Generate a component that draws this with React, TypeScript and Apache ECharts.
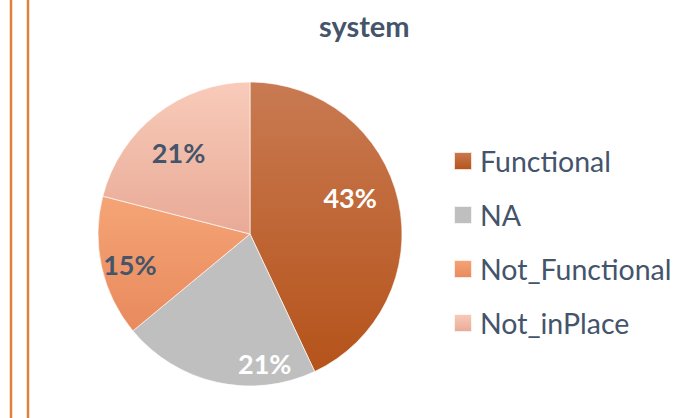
import React, { useEffect, useRef } from "react";
import * as echarts from "echarts";

const categories = ["Functional", "NA", "Not_Functional", "Not_inPlace"];
const values = [43, 21, 15, 21];
const chartTitle = "system";

const grad = (top: string, bottom: string) =>
  new echarts.graphic.LinearGradient(0, 0, 0, 1, [
    { offset: 0, color: top },
    { offset: 1, color: bottom },
  ]);

const sliceColors = [
  grad("#C97A52", "#B5531A"),
  "#BFBFBF",
  grad("#F5A476", "#E88A5D"),
  grad("#F9CBBA", "#E8AA96"),
];
const labelColors = ["#FFFFFF", "#FFFFFF", "#44546A", "#44546A"];
const labelNudges = [
  [23, -19],
  [32, 52],
  [-43, 13],
  [-23, -19],
];

export default function App() {
  const ref = useRef<HTMLDivElement>(null);
  useEffect(() => {
    if (!ref.current) return;
    const chart = echarts.init(ref.current, undefined, { renderer: "svg" });
    const total = values.reduce((a, b) => a + b, 0);
    chart.setOption({
      animation: false,
      backgroundColor: "#FFFFFF",
      title: {
        text: chartTitle,
        left: 314,
        top: 6,
        textStyle: {
          fontFamily: "Lato",
          fontWeight: "bold",
          fontSize: 29,
          color: "#44546A",
        },
      },
      legend: {
        orient: "vertical",
        left: 453,
        top: 146,
        padding: 0,
        itemWidth: 18,
        itemHeight: 18,
        itemGap: 24,
        icon: "rect",
        data: categories,
        textStyle: {
          fontFamily: "Lato",
          fontSize: 28.5,
          lineHeight: 30,
          color: "#44546A",
          padding: [0, 0, 0, 3],
        },
      },
      graphic: [
        {
          type: "line",
          shape: { x1: 11, y1: 0, x2: 11, y2: 418 },
          style: { stroke: "#E0803F", lineWidth: 2.5 },
        },
        {
          type: "line",
          shape: { x1: 28, y1: 0, x2: 28, y2: 418 },
          style: { stroke: "#E0803F", lineWidth: 2.5 },
        },
      ],
      series: [
        {
          type: "pie",
          center: [250, 234],
          radius: [0, 152],
          startAngle: 90,
          clockwise: true,
          silent: true,
          itemStyle: { borderColor: "rgba(255,255,255,0.8)", borderWidth: 0.8 },
          labelLine: { show: false },
          data: categories.map((name, i) => ({
            name,
            value: values[i],
            itemStyle: { color: sliceColors[i] },
            label: {
              show: true,
              position: "inside",
              offset: labelNudges[i],
              formatter: () => Math.round((values[i] / total) * 100) + "%",
              fontFamily: "Lato",
              fontWeight: "bold",
              fontSize: 27,
              color: labelColors[i],
            },
          })),
        },
      ],
    });
    return () => chart.dispose();
  }, []);
  return (
    <div
      ref={ref}
      style={{ position: "fixed", left: 0, top: 0, width: 699, height: 418 }}
    />
  );
}
